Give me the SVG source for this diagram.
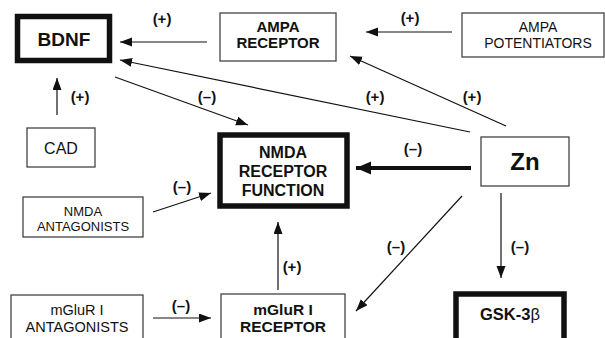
<svg xmlns="http://www.w3.org/2000/svg" width="605" height="338" viewBox="0 0 605 338">
<style>
  .thin{fill:#fff;stroke:#444;stroke-width:1.3}
  .thick{fill:#fff;stroke:#111;stroke-width:5.5}
  text{font-family:"Liberation Sans",Arial,sans-serif;fill:#111;text-anchor:middle}
  .b{font-weight:bold}
  .lbl{font-weight:bold;font-size:15px}
  .c{stroke:#111;stroke-width:1.2;fill:none;marker-end:url(#ah)}
  .ct{stroke:#111;stroke-width:4;fill:none;marker-end:url(#ahb)}
</style>
<defs>
  <marker id="ah" markerUnits="userSpaceOnUse" markerWidth="13" markerHeight="10" refX="12" refY="4.5" orient="auto">
    <path d="M0,0 L12,4.5 L0,9 Z" fill="#111"/>
  </marker>
  <marker id="ahb" markerUnits="userSpaceOnUse" markerWidth="16" markerHeight="14" refX="15" refY="6.5" orient="auto">
    <path d="M0,0 L15,6.5 L0,13 Z" fill="#111"/>
  </marker>
</defs>
<rect width="605" height="338" fill="#fff"/>
<g id="connectors">
  <line class="c" x1="207" y1="42" x2="120" y2="42"/>
  <line class="c" x1="452" y1="32" x2="366" y2="32"/>
  <line class="c" x1="470" y1="132" x2="120" y2="60"/>
  <line class="c" x1="506" y1="126" x2="350" y2="56"/>
  <line class="c" x1="115" y1="77" x2="248" y2="125"/>
  <line class="c" x1="57" y1="115" x2="57" y2="78"/>
  <line class="ct" x1="471" y1="168" x2="356" y2="168"/>
  <line class="c" x1="153" y1="212" x2="211" y2="193"/>
  <line class="c" x1="501" y1="193" x2="501" y2="278"/>
  <line class="c" x1="462" y1="196" x2="356" y2="311"/>
  <line class="c" x1="278" y1="290" x2="278" y2="222"/>
  <line class="c" x1="153" y1="318" x2="211" y2="318"/>
  <text class="lbl" x="162" y="24">(+)</text>
  <text class="lbl" x="410" y="23">(+)</text>
  <text class="lbl" x="375" y="102">(+)</text>
  <text class="lbl" x="472" y="102">(+)</text>
  <text class="lbl" x="207" y="102">(–)</text>
  <text class="lbl" x="80" y="102">(+)</text>
  <text class="lbl" x="413" y="154">(–)</text>
  <text class="lbl" x="182" y="192">(–)</text>
  <text class="lbl" x="520" y="252">(–)</text>
  <text class="lbl" x="396" y="252">(–)</text>
  <text class="lbl" x="292" y="272">(+)</text>
  <text class="lbl" x="181" y="311">(–)</text>
</g>
<g id="bdnf">
  <rect class="thick" x="17.5" y="16.5" width="92" height="44" stroke-width="5"/>
  <text class="b" x="64" y="46" font-size="19">BDNF</text>
</g>
<g id="ampa-receptor">
  <rect class="thin" x="220" y="13" width="116" height="48"/>
  <text class="b" x="278" y="32" font-size="15">AMPA</text>
  <text class="b" x="278" y="48" font-size="15">RECEPTOR</text>
</g>
<g id="ampa-potentiators">
  <rect class="thin" x="462" y="13" width="142" height="44"/>
  <text x="538" y="32" font-size="14">AMPA</text>
  <text x="538" y="48" font-size="14">POTENTIATORS</text>
</g>
<g id="cad">
  <rect class="thin" x="27" y="128" width="68" height="39"/>
  <text x="61" y="154" font-size="16">CAD</text>
</g>
<g id="nmda-receptor-function">
  <rect class="thick" x="220" y="135" width="127" height="71" stroke-width="6"/>
  <text class="b" x="283" y="158" font-size="16">NMDA</text>
  <text class="b" x="283" y="177" font-size="16">RECEPTOR</text>
  <text class="b" x="283" y="196" font-size="16">FUNCTION</text>
</g>
<g id="zn">
  <rect class="thin" x="481" y="137" width="88" height="49"/>
  <text class="b" x="525" y="170" font-size="24">Zn</text>
</g>
<g id="nmda-antagonists">
  <rect class="thin" x="23" y="197" width="120" height="40"/>
  <text x="83" y="216" font-size="13">NMDA</text>
  <text x="83" y="231" font-size="13">ANTAGONISTS</text>
</g>
<g id="mglur-antagonists">
  <rect class="thin" x="11" y="295" width="132" height="60"/>
  <text x="77" y="315" font-size="14.5">mGluR I</text>
  <text x="77" y="332" font-size="14.5">ANTAGONISTS</text>
</g>
<g id="mglur-receptor">
  <rect class="thin" x="221" y="294" width="124" height="60"/>
  <text class="b" x="283" y="315" font-size="15.5">mGluR I</text>
  <text class="b" x="283" y="332" font-size="15.5">RECEPTOR</text>
</g>
<g id="gsk3b">
  <rect class="thick" x="456" y="294" width="108" height="60" stroke-width="6"/>
  <text class="b" x="510" y="320" font-size="16.5">GSK-3<tspan font-weight="normal">β</tspan></text>
</g>
</svg>
